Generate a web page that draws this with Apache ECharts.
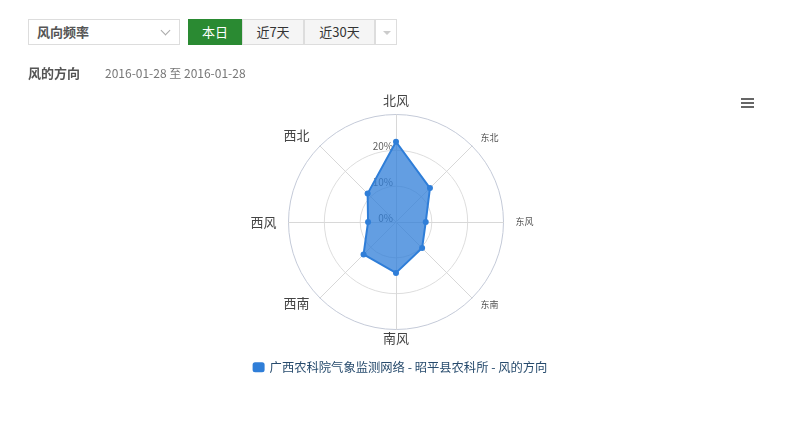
<!DOCTYPE html>
<html><head><meta charset="utf-8">
<script src="https://cdn.jsdelivr.net/npm/echarts@6/dist/echarts.min.js"></script>
<style>
html,body{margin:0;padding:0;background:#fff;width:800px;height:425px;overflow:hidden;font-family:"Noto Sans CJK SC","Noto Sans",sans-serif;}
#chart{position:absolute;left:0;top:0;width:800px;height:425px;}
.ui{position:absolute;z-index:2;box-sizing:border-box;font-size:13px;}
#sel{left:28px;top:19px;width:152px;height:26px;border:1px solid #ddd;background:#fff;color:#555;font-weight:bold;line-height:24px;padding-left:8px;}
#sel .chev{position:absolute;right:10px;top:7px;width:6px;height:6px;border-right:1px solid #aaa;border-bottom:1px solid #aaa;transform:rotate(45deg);}
.btn{top:19px;height:26px;line-height:24px;text-align:center;border:1px solid #ddd;background:#f5f5f5;color:#333;}
#b1{left:188px;width:54px;background:#2a8a32;border-color:#2a8a32;color:#fff;}
#b2{left:242px;width:62px;}
#b3{left:304px;width:71px;}
#b4{left:375px;width:22px;background:#fff;}
#b4 .tri{position:absolute;left:7px;top:11px;width:0;height:0;border-left:4px solid transparent;border-right:4px solid transparent;border-top:4px solid #ccc;}
#hd{left:28px;top:63px;color:#555;font-weight:bold;font-size:13px;}
#dt{left:105px;top:64px;color:#777;font-size:12px;}
</style></head>
<body>
<div id="chart"></div>
<div class="ui" id="sel">风向频率<span class="chev"></span></div>
<div class="ui btn" id="b1">本日</div>
<div class="ui btn" id="b2">近7天</div>
<div class="ui btn" id="b3">近30天</div>
<div class="ui btn" id="b4"><span class="tri"></span></div>
<div class="ui" id="hd">风的方向</div>
<div class="ui" id="dt">2016-01-28 至 2016-01-28</div>
<script>
// Wind directions (counter-clockwise from north, as the radar lays them out)
var directions = ['北风', '西北', '西风', '西南', '南风', '东南', '东风', '东北'];
// Frequency (%) per direction
var frequency = [22.4, 11.2, 7.8, 12.8, 14.2, 10.3, 8.3, 13.4];
var axisMax = 30;
var axisTicks = [0, 10, 20]; // labels shown
var seriesName = '广西农科院气象监测网络 - 昭平县农科所 - 风的方向';

var nameStyleKey = {'北风': 'n', '西北': 'nw', '西风': 'w', '西南': 'sw', '南风': 's', '东南': 'se', '东风': 'e', '东北': 'ne'};

var chart = echarts.init(document.getElementById('chart'), null, {renderer: 'canvas'});
var indicator = directions.map(function (d, i) {
  var o = {name: d, max: axisMax, min: 0};
  if (i === 0) o.axisLabel = {show: true};
  return o;
});
var big = {fontSize: 13, color: '#444', fontFamily: 'Noto Sans CJK SC'};
var small = {fontSize: 9, color: '#555', fontFamily: 'Noto Sans CJK SC'};
function st(base, pad) { return Object.assign({}, base, {padding: pad}); }
chart.setOption({
  animation: false,
  textStyle: {fontFamily: 'Noto Sans CJK SC'},
  legend: {
    data: [seriesName],
    left: 'center',
    top: 356,
    icon: 'roundRect',
    itemWidth: 12,
    itemHeight: 10,
    itemGap: 5,
    textStyle: {color: '#274b6d', fontSize: 12.3, fontFamily: 'Noto Sans CJK SC'}
  },
  radar: {
    center: [396, 222],
    radius: 107.5,
    startAngle: 90,
    shape: 'circle',
    splitNumber: 3,
    indicator: indicator,
    nameGap: 2,
    axisName: {
      formatter: function (name) { return '{' + nameStyleKey[name] + '|' + name + '}'; },
      rich: {
        n: st(big, [0, 0, 6, 0]),
        s: st(big, [0, 0, 0, 0]),
        w: st(big, [0, 10, 0, 0]),
        nw: st(big, [0, 9, 19, 0]),
        sw: st(big, [8, 9, 0, 0]),
        e: st(small, [0, 0, 0, 10]),
        ne: st(small, [0, 0, 14, 7]),
        se: st(small, [11, 0, 0, 7])
      }
    },
    axisLine: {lineStyle: {color: '#d8d8d8', width: 1}},
    splitLine: {lineStyle: {color: ['#dddddd', '#dddddd', '#dddddd', '#c4cad8'], width: 1}},
    splitArea: {show: false},
    axisTick: {show: false},
    axisLabel: {
      show: false,
      color: '#606060',
      fontSize: 10,
      margin: 2,
      formatter: function (v) { return axisTicks.indexOf(v) >= 0 ? '{a|' + v + '%}' : ''; },
      rich: {
        a: {color: '#606060', fontSize: 10, padding: [0, 1, 8, 0], fontFamily: 'Noto Sans CJK SC'}
      }
    }
  },
  graphic: [
    {type: 'rect', left: 741, top: 98, shape: {width: 13, height: 2}, style: {fill: '#666'}},
    {type: 'rect', left: 741, top: 102, shape: {width: 13, height: 2}, style: {fill: '#666'}},
    {type: 'rect', left: 741, top: 106, shape: {width: 13, height: 2}, style: {fill: '#666'}}
  ],
  series: [{
    name: seriesName,
    type: 'radar',
    symbol: 'circle',
    symbolSize: 6,
    itemStyle: {color: '#2f7ed8'},
    lineStyle: {color: '#2f7ed8', width: 2},
    areaStyle: {color: '#2f7ed8', opacity: 0.75},
    data: [{value: frequency, name: seriesName}]
  }]
});
</script>
</body></html>
